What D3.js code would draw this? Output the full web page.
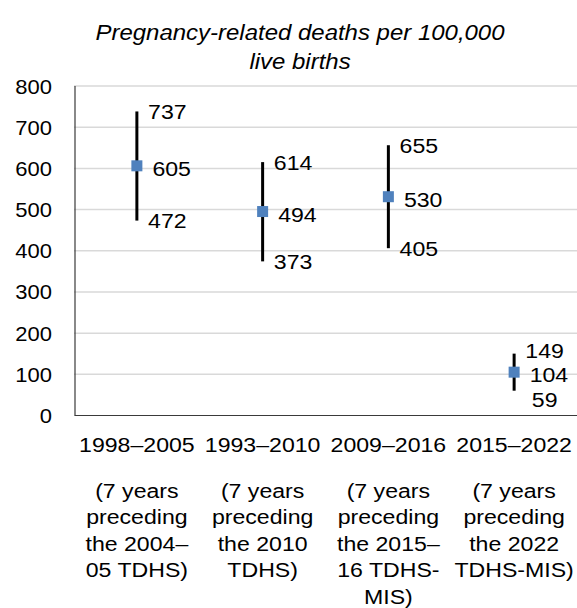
<!DOCTYPE html>
<html>
<head>
<meta charset="utf-8">
<script src="https://cdn.jsdelivr.net/npm/d3@7"></script>
<style>
  html, body { margin: 0; padding: 0; background: #fff; }
  svg { display: block; }
  text { font-family: "Liberation Sans", Arial, Helvetica, sans-serif; fill: #000; }
</style>
</head>
<body>
<svg id="chart" width="577" height="608"></svg>
<script>
// ---- data ----
const titleLines = ["Pregnancy-related deaths per 100,000", "live births"];
const categories = ["1998–2005", "1993–2010", "2009–2016", "2015–2022"];
const descriptions = [
  ["(7 years", "preceding", "the 2004–", "05 TDHS)"],
  ["(7 years", "preceding", "the 2010", "TDHS)"],
  ["(7 years", "preceding", "the 2015–", "16 TDHS-", "MIS)"],
  ["(7 years", "preceding", "the 2022", "TDHS-MIS)"]
];
const estimates = [605, 494, 530, 104];
const lowerBounds = [472, 373, 405, 59];
const upperBounds = [737, 614, 655, 149];
const yTicks = [0, 100, 200, 300, 400, 500, 600, 700, 800];

// ---- layout ----
const W = 577, H = 608;
const plot = { left: 74, right: 577, top: 85.5, bottom: 415 };
const SX = 1.1; // horizontal glyph stretch seen in the reference

const svg = d3.select("#chart");

const x = d3.scaleBand().domain(categories).range([plot.left, plot.right]).padding(0);
const y = d3.scaleLinear().domain([0, 800]).range([plot.bottom, plot.top]);

function place(sel, tx, ty, sx) {
  return sel.attr("x", 0).attr("y", 0)
    .attr("transform", `translate(${tx},${ty}) scale(${sx},1)`);
}

// title
svg.append("g").selectAll("text").data(titleLines).join("text")
  .attr("text-anchor", "middle")
  .style("font-size", "22px").style("font-style", "italic")
  .each(function (d, i) { place(d3.select(this), 300, 40 + i * 29, 1.09); })
  .text(d => d);

// gridlines
svg.append("g")
  .attr("transform", `translate(${plot.left},0)`)
  .call(d3.axisLeft(y).tickValues(yTicks.filter(v => v > 0)).tickSize(-(plot.right - plot.left)).tickFormat(""))
  .call(g => g.select(".domain").remove())
  .call(g => g.selectAll(".tick line").attr("stroke", "#d9d9d9").attr("stroke-width", 1.5));

// y axis
svg.append("g")
  .attr("transform", `translate(${plot.left + 0.5},0)`)
  .call(d3.axisLeft(y).tickValues(yTicks).tickSize(0).tickPadding(0))
  .call(g => g.select(".domain").attr("stroke", "#3a3a3a").attr("stroke-width", 1.2))
  .call(g => g.selectAll(".tick text")
    .attr("dy", null).attr("text-anchor", "end").attr("fill", "#000")
    .style("font-size", "20px")
    .attr("font-family", null)
    .each(function () { place(d3.select(this), -22.5, 7.5, SX); }));
svg.selectAll(".tick text").style("font-family", "'Liberation Sans', Arial, sans-serif");

// x axis
svg.append("g")
  .attr("transform", `translate(0,${plot.bottom})`)
  .call(d3.axisBottom(x).tickSize(0).tickFormat(""))
  .call(g => g.select(".domain").attr("stroke", "#3a3a3a").attr("stroke-width", 1.2));

// category labels
const catG = svg.append("g");
categories.forEach((c, i) => {
  const cx = x(c) + x.bandwidth() / 2;
  place(catG.append("text"), cx, 452, SX)
    .attr("text-anchor", "middle").style("font-size", "21px").text(c);
  descriptions[i].forEach((line, j) => {
    place(catG.append("text"), cx, 497.5 + j * 26.5, SX)
      .attr("text-anchor", "middle").style("font-size", "21px").text(line);
  });
});

// error bars + markers + labels
const rows = categories.map((c, i) => ({
  cat: c, est: estimates[i], lo: lowerBounds[i], hi: upperBounds[i]
}));
const marks = svg.append("g");
rows.forEach(d => {
  const cx = x(d.cat) + x.bandwidth() / 2;
  marks.append("line")
    .attr("x1", cx).attr("x2", cx)
    .attr("y1", y(d.hi)).attr("y2", y(d.lo))
    .attr("stroke", "#000").attr("stroke-width", 3);
  marks.append("rect")
    .attr("x", cx - 5.5).attr("y", y(d.est) - 5.5)
    .attr("width", 11).attr("height", 11)
    .attr("fill", "#4f81bd");

  const midC = y(d.est) + 2.7;
  const hiC = Math.min(y(d.hi), midC - 24.5);
  const loC = Math.max(y(d.lo), midC + 24.5);
  place(marks.append("text"), cx + 15.5, midC + 7.5, SX)
    .attr("text-anchor", "start").style("font-size", "21px").text(d.est);
  place(marks.append("text"), cx + 30.5, hiC + 7.5, SX)
    .attr("text-anchor", "middle").style("font-size", "21px").text(d.hi);
  place(marks.append("text"), cx + 30.5, loC + 7.5, SX)
    .attr("text-anchor", "middle").style("font-size", "21px").text(d.lo);
});
</script>
</body>
</html>
